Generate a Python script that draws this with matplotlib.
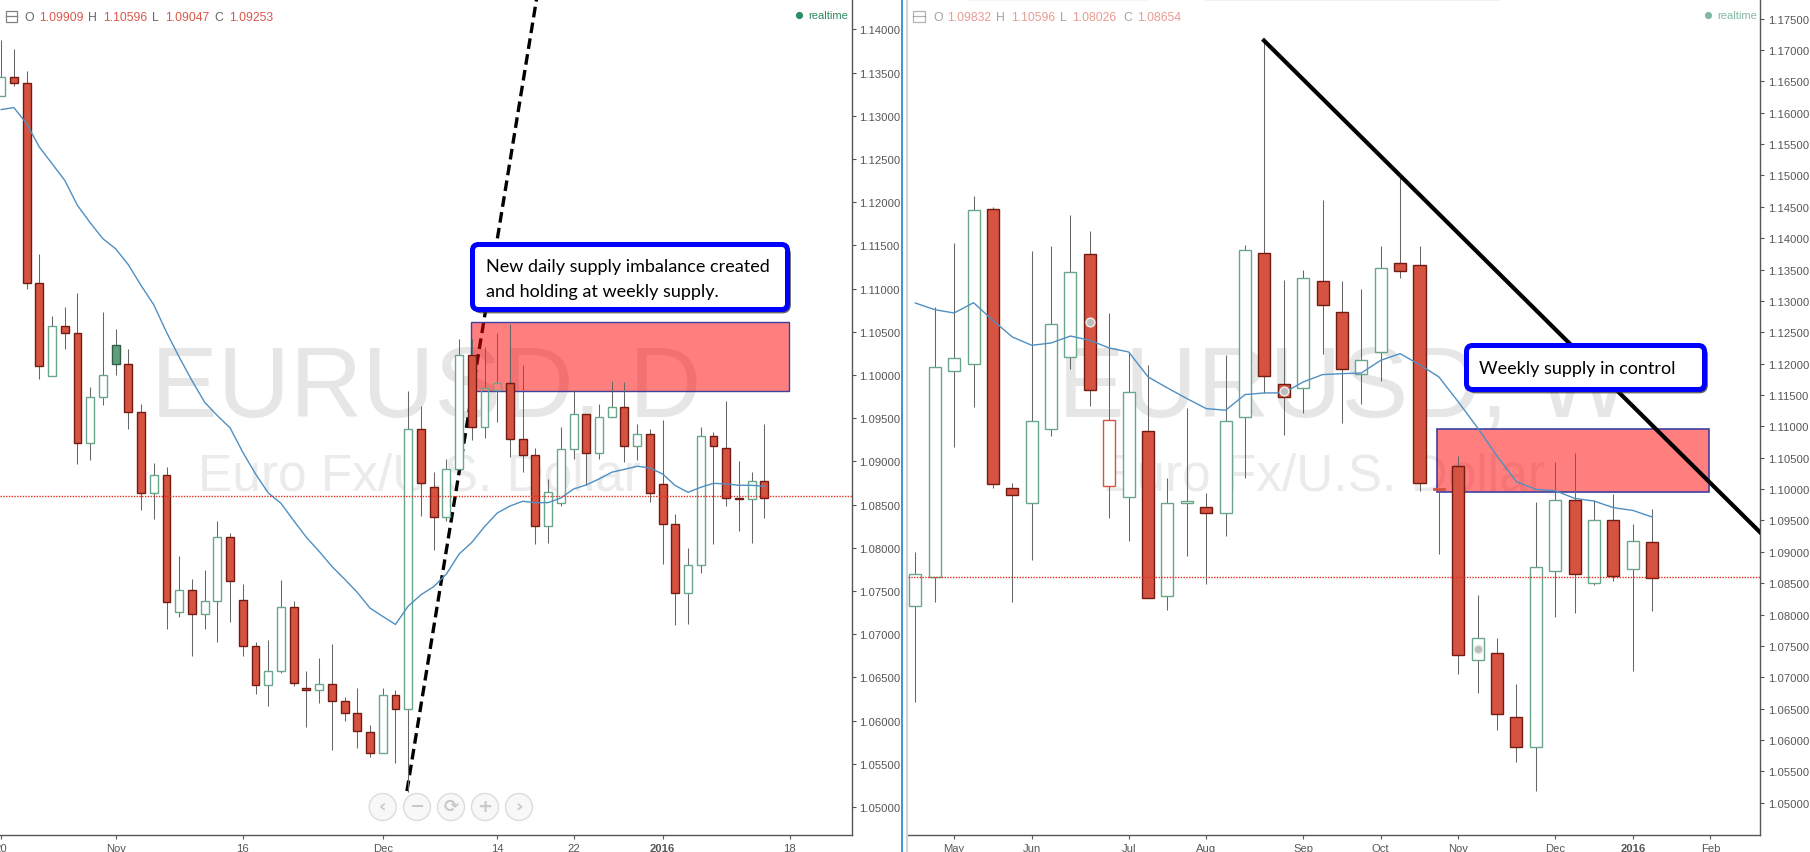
import matplotlib
matplotlib.use("Agg")
import matplotlib.pyplot as plt
from matplotlib.patches import FancyBboxPatch, Rectangle, Circle

# ---------- data: daily pane ----------
d_kind = list("GRRRGRRGGSRRGRGRGGRRRGGRRGRRRRGRGRRGGRGGRRRGGGRGGRGRRRGGRRRGR")
d_high = [1.1388,1.1378,1.1352,1.1140,1.1068,1.1079,1.1095,1.0986,1.1073,1.1053,1.1030,1.0967,1.0898,1.0894,1.0791,1.0764,1.0774,1.0831,1.0817,1.0758,
          1.0691,1.0693,1.0763,1.0738,1.0657,1.0673,1.0689,1.0627,1.0638,1.0595,1.0638,1.0636,1.0982,1.0964,1.0888,1.0903,1.1042,1.1042,1.1032,1.1049,
          1.1059,1.1012,1.0915,1.0880,1.0940,1.0983,1.0955,1.0967,1.0993,1.0992,1.0943,1.0938,1.0948,1.0839,1.0800,1.0940,1.0934,1.0970,1.0901,1.0888,1.0943]
d_top =  [1.1345,1.1345,1.1338,1.1107,1.1057,1.1057,1.1049,1.0975,1.1000,1.1035,1.1013,1.0957,1.0884,1.0884,1.0751,1.0751,1.0739,1.0812,1.0812,1.0740,
          1.0686,1.0658,1.0732,1.0732,1.0638,1.0642,1.0642,1.0623,1.0609,1.0587,1.0630,1.0630,1.0937,1.0937,1.0870,1.0891,1.1023,1.1023,1.0985,1.0991,
          1.0991,1.0926,1.0908,1.0865,1.0914,1.0955,1.0955,1.0951,1.0963,1.0963,1.0932,1.0932,1.0874,1.0828,1.0780,1.0929,1.0929,1.0915,1.0858,1.0877,1.0877]
d_bot =  [1.1323,1.1338,1.1107,1.1011,1.0999,1.1049,1.0921,1.0921,1.0975,1.1013,1.0957,1.0863,1.0863,1.0737,1.0726,1.0723,1.0723,1.0739,1.0762,1.0686,
          1.0641,1.0641,1.0658,1.0643,1.0635,1.0635,1.0623,1.0609,1.0588,1.0563,1.0563,1.0613,1.0613,1.0875,1.0836,1.0836,1.0891,1.0940,1.0940,1.0983,
          1.0926,1.0908,1.0825,1.0825,1.0852,1.0914,1.0910,1.0910,1.0951,1.0918,1.0918,1.0863,1.0828,1.0748,1.0748,1.0780,1.0918,1.0858,1.0857,1.0857,1.0858]
d_low =  [1.1323,1.1335,1.1100,1.0996,1.0999,1.1030,1.0897,1.0902,1.0965,1.1000,1.0937,1.0844,1.0833,1.0706,1.0720,1.0675,1.0706,1.0691,1.0714,1.0675,
          1.0631,1.0617,1.0655,1.0640,1.0593,1.0620,1.0566,1.0600,1.0568,1.0558,1.0563,1.0551,1.0517,1.0837,1.0797,1.0831,1.0891,1.0925,1.0927,1.0946,
          1.0905,1.0888,1.0804,1.0806,1.0848,1.0903,1.0873,1.0903,1.0951,1.0899,1.0902,1.0853,1.0781,1.0711,1.0712,1.0771,1.0804,1.0848,1.0820,1.0806,1.0835]
d_ma =   [1.13073,1.13096,1.12911,1.12640,1.12447,1.12254,1.11964,1.11763,1.11578,1.11462,1.11277,1.11037,1.10813,1.10496,1.10207,1.09936,1.09685,1.09530,1.09388,1.09106,
          1.08855,1.08635,1.08515,1.08314,1.08121,1.07959,1.07785,1.07638,1.07484,1.07302,1.07206,1.07113,1.07326,1.07457,1.07550,1.07696,1.07928,1.08063,1.08245,1.08403,
          1.08484,1.08539,1.08523,1.08523,1.08577,1.08681,1.08728,1.08797,1.08875,1.08909,1.08944,1.08925,1.08855,1.08720,1.08643,1.08701,1.08747,1.08739,1.08724,1.08724,1.08712]
d_xtick_pos = [0, 9, 19, 30, 39, 45, 52, 62]
d_xtick_lab = ["20", "Nov", "16", "Dec", "14", "22", "2016", "18"]
d_last = 1.0860
d_zone = (36.9, 61.9, 1.0982, 1.1061)
d_trend_x = [31.9, 42.1]
d_trend_y = [1.05185, 1.1436]
d_ohlc = ["1.09909", "1.10596", "1.09047", "1.09253"]

# ---------- data: weekly pane ----------
w_kind = list("GGGGRRGGGRHGRGGRGGRRGRRGGRRDRGRRGGRGRGR")
w_high = [1.0900,1.1290,1.1393,1.1468,1.1450,1.1009,1.1379,1.1388,1.1437,1.1411,1.1280,1.1219,1.1198,1.1017,1.1129,1.0994,1.1214,1.1389,1.1715,1.1334,
          1.1350,1.1461,1.1331,1.1319,1.1388,1.1496,1.1388,1.1002,1.1052,1.0831,1.0762,1.0689,1.0980,1.1043,1.1058,1.0983,1.0992,1.0945,1.0969]
w_top =  [1.08652,1.11947,1.1209,1.1445,1.1446,1.1001,1.1109,1.1263,1.1346,1.1375,1.1110,1.1155,1.1092,1.0977,1.0981,1.0972,1.1109,1.1381,1.1376,1.1167,
          1.1336,1.1332,1.1282,1.1206,1.1352,1.1360,1.1357,1.1001,1.1036,1.0762,1.0739,1.0637,1.0875,1.0983,1.0983,1.0951,1.0951,1.0918,1.0915]
w_bot =  [1.08137,1.08604,1.1188,1.1199,1.1008,1.0990,1.0978,1.1096,1.1211,1.1158,1.1005,1.0988,1.0827,1.0829,1.0978,1.0962,1.0962,1.1115,1.1180,1.1146,
          1.1161,1.1294,1.1192,1.1184,1.1219,1.1348,1.1010,1.0999,1.0736,1.0727,1.0642,1.0588,1.0588,1.0870,1.0865,1.0850,1.0861,1.0873,1.0859]
w_low =  [1.06608,1.0820,1.1067,1.1131,1.1001,1.0820,1.0887,1.1084,1.1191,1.1132,1.0954,1.0917,1.0827,1.0808,1.0893,1.0849,1.0925,1.1018,1.1153,1.1087,
          1.1121,1.1215,1.1106,1.1136,1.1173,1.1336,1.0997,1.0897,1.0705,1.0675,1.0616,1.0565,1.0518,1.0796,1.0803,1.0847,1.0854,1.0710,1.0806]
w_ma =   [1.12966,1.12860,1.12807,1.12971,1.12690,1.12425,1.12292,1.12329,1.12440,1.12371,1.12249,1.12186,1.11788,1.11612,1.11443,1.11283,1.11257,1.11506,1.11533,1.11533,
          1.11708,1.11825,1.11840,1.11851,1.12053,1.12159,1.11984,1.11788,1.11390,1.10975,1.10526,1.10117,1.09995,1.09974,1.09852,1.09809,1.09703,1.09660,1.09554]
w_xtick_pos = [2, 6, 11, 15, 20, 24, 28, 33, 37, 41]
w_xtick_lab = ["May", "Jun", "Jul", "Aug", "Sep", "Oct", "Nov", "Dec", "2016", "Feb"]
w_last = 1.0860
w_zone = (26.9, 40.95, 1.0995, 1.1096)
w_trend_x = [17.98, 43.6]
w_trend_y = [1.1715, 1.0930]
w_dots_x = [9, 19, 29]
w_dots_y = [1.1267, 1.1157, 1.0745]
w_ohlc = ["1.09832", "1.10596", "1.08026", "1.08654"]

d_yticks = [1.05 + 0.005 * i for i in range(19)]
w_yticks = [1.05 + 0.005 * i for i in range(26)]

# ---------- style ----------
W, H = 1810, 853
RED = "#d65241"; RED_EDGE = "#701c12"; GREEN_EDGE = "#6aa78a"; GREEN_FILL = "#5f9d7b"
WICK = "#666666"; AX = "#555555"; TXT = "#565656"; MA = "#4f8fc2"
FONT = "Liberation Sans"

fig = plt.figure(figsize=(W / 100, H / 100), dpi=100, facecolor="white")

def pane(x0, x1, xlim, ylim):
    ax = fig.add_axes([x0 / W, 1 - 836 / H, (x1 - x0) / W, 836 / H])
    ax.set_xlim(*xlim); ax.set_ylim(*ylim)
    for s in ("top", "left"):
        ax.spines[s].set_visible(False)
    for s in ("right", "bottom"):
        ax.spines[s].set_color(AX); ax.spines[s].set_linewidth(1.0)
    ax.yaxis.tick_right()
    ax.tick_params(axis="y", length=3, width=0.8, color=AX, pad=2.5, labelcolor=TXT, labelsize=8.1)
    ax.tick_params(axis="x", length=3, width=0.8, color=AX, pad=3, labelcolor=TXT, labelsize=8.1)
    return ax

def candles(ax, kind, high, top, bot, low, width):
    # hollow interiors sit under the supply zone (z 5); outlines, wicks and red bodies above it
    for i, k in enumerate(kind):
        ax.vlines(i, top[i], high[i], color=WICK, lw=0.75, zorder=6)
        ax.vlines(i, low[i], bot[i], color=WICK, lw=0.75, zorder=6)
        h = top[i] - bot[i]
        if k == "D":
            ax.bar(i, h, width * 1.05, bot[i], color=RED, edgecolor=RED, lw=0.6, zorder=7)
        elif k == "R":
            ax.bar(i, h, width, bot[i], color=RED, edgecolor=RED_EDGE, lw=1.0, zorder=7)
        elif k == "S":
            ax.bar(i, h, width, bot[i], color=GREEN_FILL, edgecolor="#2f5f47", lw=1.0, zorder=7)
        else:
            ec = RED if k == "H" else GREEN_EDGE
            ax.bar(i, h, width, bot[i], color="white", edgecolor="none", zorder=4)
            ax.bar(i, h, width, bot[i], color="none", edgecolor=ec, lw=1.0, zorder=7)

def setup_ticks(ax, xp, xl, yp):
    ax.set_xticks(xp); ax.set_xticklabels(xl, family=FONT)
    ax.set_yticks(yp); ax.set_yticklabels([f"{v:.5f}" for v in yp], family=FONT)
    for t in ax.get_xticklabels():
        if t.get_text() == "2016":
            t.set_fontweight("bold")

# ---------- daily pane ----------
a = pane(0, 851.5, (-0.09, 66.85), (1.04676, 1.14353))
a.text(0.5, 0.532, "EURUSD, D", transform=a.transAxes, ha="center", va="center",
       family=FONT, fontsize=72, color="#e6e6e6", zorder=1)
a.text(0.492, 0.430, "Euro Fx/U.S. Dollar", transform=a.transAxes, ha="center", va="center",
       family=FONT, fontsize=37, color="#ebebeb", zorder=1)
candles(a, d_kind, d_high, d_top, d_bot, d_low, 0.62)
a.plot(d_trend_x, d_trend_y, color="black", lw=2.4, ls=(0, (3.2, 1.6)), zorder=3)
a.add_patch(Rectangle((d_zone[0], d_zone[2]), d_zone[1] - d_zone[0], d_zone[3] - d_zone[2],
                      fc=(1, 0, 0, 0.5), ec="#3f3f9f", lw=1.0, zorder=5))
a.plot(range(len(d_ma)), d_ma, color=MA, lw=1.0, zorder=8)
a.axhline(d_last, color="#e0301e", lw=1.0, ls=(0, (1, 1)), zorder=8)
setup_ticks(a, d_xtick_pos, d_xtick_lab, d_yticks)

# ---------- weekly pane ----------
b = pane(908, 1760, (-0.38, 43.56), (1.04485, 1.17813))
b.text(0.512, 0.532, "EURUSD, W", transform=b.transAxes, ha="center", va="center",
       family=FONT, fontsize=72, color="#e6e6e6", zorder=1)
b.text(0.488, 0.430, "Euro Fx/U.S. Dollar", transform=b.transAxes, ha="center", va="center",
       family=FONT, fontsize=37, color="#ebebeb", zorder=1)
candles(b, w_kind, w_high, w_top, w_bot, w_low, 0.62)
b.plot(w_trend_x, w_trend_y, color="black", lw=3.0, zorder=6.5)
b.add_patch(Rectangle((w_zone[0], w_zone[2]), w_zone[1] - w_zone[0], w_zone[3] - w_zone[2],
                      fc=(1, 0, 0, 0.5), ec="#3f3f9f", lw=1.2, zorder=5))
b.plot(range(len(w_ma)), w_ma, color=MA, lw=1.0, zorder=8)
b.axhline(w_last, color="#e0301e", lw=1.0, ls=(0, (1, 1)), zorder=8)
b.scatter(w_dots_x, w_dots_y, s=40, c="#bdbdbd", edgecolors="#eeeeee", linewidths=1.0, zorder=9)
setup_ticks(b, w_xtick_pos, w_xtick_lab, w_yticks)

# ---------- pixel overlay: header, callouts, navigation ----------
ov = fig.add_axes([0, 0, 1, 1], zorder=10)
ov.set_xlim(0, W); ov.set_ylim(H, 0); ov.axis("off"); ov.patch.set_alpha(0)

ov.vlines(901.7, 0, H, color="#1b86c6", lw=1.2)
ov.vlines(907, 0, H, color="#d4d4dc", lw=1.6)
ov.add_patch(Rectangle((1205, 0), 295, 2, fc="#f2f2f2", ec="none"))
ov.add_patch(Rectangle((968, 0), 180, 2, fc="#f6f6f6", ec="none"))

def header(x0, vals, alpha, xs):
    ov.add_patch(Rectangle((x0, 11.5), 11.5, 11.5, fc="none", ec="#808080", lw=0.9, alpha=alpha))
    ov.plot([x0, x0 + 11.5], [17.3, 17.3], color="#808080", lw=0.9, alpha=alpha)
    for lab, v, (xa, xb) in zip("OHLC", vals, xs):
        ov.text(xa, 17.7, lab, family=FONT, fontsize=8.8, color="#666666", alpha=alpha, va="center")
        ov.text(xb, 17.7, v, family=FONT, fontsize=8.8, color="#d9594c", alpha=alpha, va="center")

header(5.5, d_ohlc, 1.0, [(24, 39), (88, 103), (152, 165), (214, 229)])
header(913, w_ohlc, 0.6, [(933, 947), (996, 1011), (1060, 1072), (1123, 1137)])

for xd, xt, al in [(799.5, 808, 1.0), (1708.5, 1717, 0.6)]:
    ov.add_patch(Circle((xd, 16.5), 3.6, fc="#2e8b62", ec="none", alpha=al))
    ov.text(xt, 16.3, "realtime", family=FONT, fontsize=8.0, color="#2e8b62", alpha=al, va="center")

def callout(x0, y0, x1, y1, lines, tx, tys):
    ov.add_patch(FancyBboxPatch((x0 + 4.5, y0 + 5), x1 - x0 - 5, y1 - y0 - 5,
                                boxstyle="round,pad=0,rounding_size=7",
                                fc="#333333", ec="#333333", lw=2, alpha=0.75))
    ov.add_patch(FancyBboxPatch((x0 + 2.5, y0 + 2.5), x1 - x0 - 5, y1 - y0 - 5,
                                boxstyle="round,pad=0,rounding_size=6",
                                fc="white", ec="#0000ff", lw=3.6))
    for s, y in zip(lines, tys):
        ov.text(tx, y, s, family="Lato", fontsize=13.0, color="black", va="center")

callout(470, 243, 790, 313, ["New daily supply imbalance created", "and holding at weekly supply."], 486, [267, 292])
callout(1464, 344, 1707, 393, ["Weekly supply in control"], 1479, [369])

nav_x = [382.7, 417, 451, 485, 519]
nav_g = ["\u2039", "\u2212", "\u27f3", "+", "\u203a"]
for x, g in zip(nav_x, nav_g):
    ov.add_patch(Circle((x, 808), 13.5, fc="#f8f8f8", ec="#dcdcdc", lw=1.0))
    ov.text(x, 807, g, family="DejaVu Sans", fontsize=13, color="#c9c9c9", ha="center", va="center", fontweight="bold")

fig.savefig("out.png", dpi=100, facecolor="white")
